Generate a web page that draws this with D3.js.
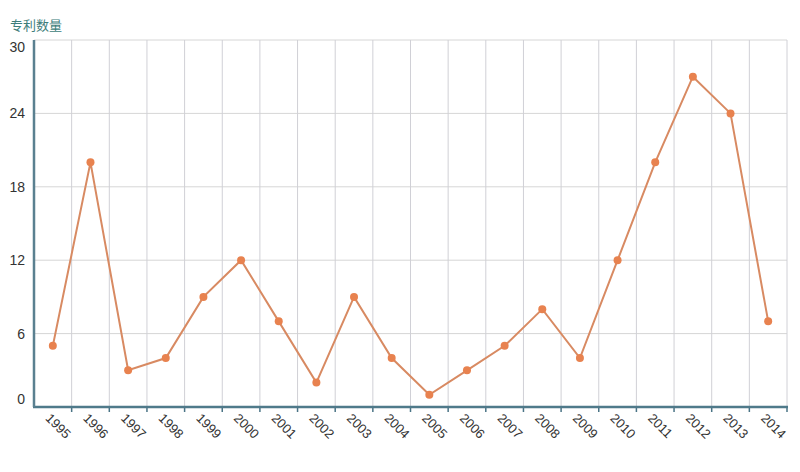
<!DOCTYPE html>
<html>
<head>
<meta charset="utf-8">
<script src="https://cdn.jsdelivr.net/npm/d3@7"></script>
<style>
  body { margin: 0; background: #fff; }
  svg { font-family: "Liberation Sans", Arial, sans-serif; }
</style>
</head>
<body>
<svg id="chart" width="800" height="472"></svg>
<script>
const years = ['1995','1996','1997','1998','1999','2000','2001','2002','2003','2004',
               '2005','2006','2007','2008','2009','2010','2011','2012','2013','2014'];
const patents = [5, 20, 3, 4, 9, 12, 7, 2, 9, 4, 1, 3, 5, 8, 4, 12, 20, 27, 24, 7];
const yTicks = [0, 6, 12, 18, 24, 30];
const yTitle = '专利数量';

const plotLeft = 34, plotRight = 787, plotTop = 40, plotBottom = 407;

const svg = d3.select('#chart');

const x = d3.scaleBand().domain(years).range([plotLeft, plotRight]);
const y = d3.scaleLinear().domain([0, 30]).range([plotBottom, plotTop]);

// grid
svg.append('g')
  .selectAll('line')
  .data(yTicks.filter(d => d > 0))
  .enter().append('line')
  .attr('x1', plotLeft).attr('x2', plotRight)
  .attr('y1', d => y(d)).attr('y2', d => y(d))
  .attr('stroke', '#d6d6d6').attr('stroke-width', 1);

svg.append('g')
  .selectAll('line')
  .data(years)
  .enter().append('line')
  .attr('x1', d => x(d) + x.bandwidth()).attr('x2', d => x(d) + x.bandwidth())
  .attr('y1', plotTop).attr('y2', plotBottom)
  .attr('stroke', '#d0d0d6').attr('stroke-width', 1);

// y labels
svg.append('g')
  .selectAll('text')
  .data(yTicks)
  .enter().append('text')
  .attr('x', 25)
  .attr('y', d => y(d))
  .attr('dy', d => d === 0 ? -3 : d === 30 ? 12 : 5)
  .attr('text-anchor', 'end')
  .attr('fill', '#333')
  .style('font-size', '14px')
  .text(d => d);

svg.append('text')
  .attr('x', 10).attr('y', 30)
  .attr('fill', '#3d7d7a')
  .style('font-size', '13px')
  .style('font-family', '"Noto Sans CJK SC", sans-serif')
  .text(yTitle);

// x axis ticks
svg.append('g')
  .selectAll('line')
  .data(years)
  .enter().append('line')
  .attr('x1', d => x(d) + x.bandwidth()).attr('x2', d => x(d) + x.bandwidth())
  .attr('y1', plotBottom).attr('y2', plotBottom + 5)
  .attr('stroke', '#4a7486').attr('stroke-width', 1.5);

svg.append('line')
  .attr('x1', plotLeft - 1).attr('x2', plotRight + 1)
  .attr('y1', plotBottom).attr('y2', plotBottom)
  .attr('stroke', '#4f7a8a').attr('stroke-width', 2.5);

svg.append('line')
  .attr('x1', plotLeft).attr('x2', plotLeft)
  .attr('y1', plotTop).attr('y2', plotBottom)
  .attr('stroke', '#5a8090').attr('stroke-width', 2.5);

svg.append('g')
  .selectAll('text')
  .data(years)
  .enter().append('text')
  .attr('transform', d => `translate(${x(d) + x.bandwidth() / 2 - 8},${plotBottom + 12}) rotate(45)`)
  .attr('fill', '#333')
  .style('font-size', '13px')
  .text(d => d);

// line
const line = d3.line()
  .x((d, i) => x(years[i]) + x.bandwidth() / 2)
  .y(d => y(d));

svg.append('path')
  .datum(patents)
  .attr('d', line)
  .attr('fill', 'none')
  .attr('stroke', '#d88a62')
  .attr('stroke-width', 2);

svg.append('g')
  .selectAll('circle')
  .data(patents)
  .enter().append('circle')
  .attr('cx', (d, i) => x(years[i]) + x.bandwidth() / 2)
  .attr('cy', d => y(d))
  .attr('r', 4)
  .attr('fill', '#e8824f');
</script>
</body>
</html>
